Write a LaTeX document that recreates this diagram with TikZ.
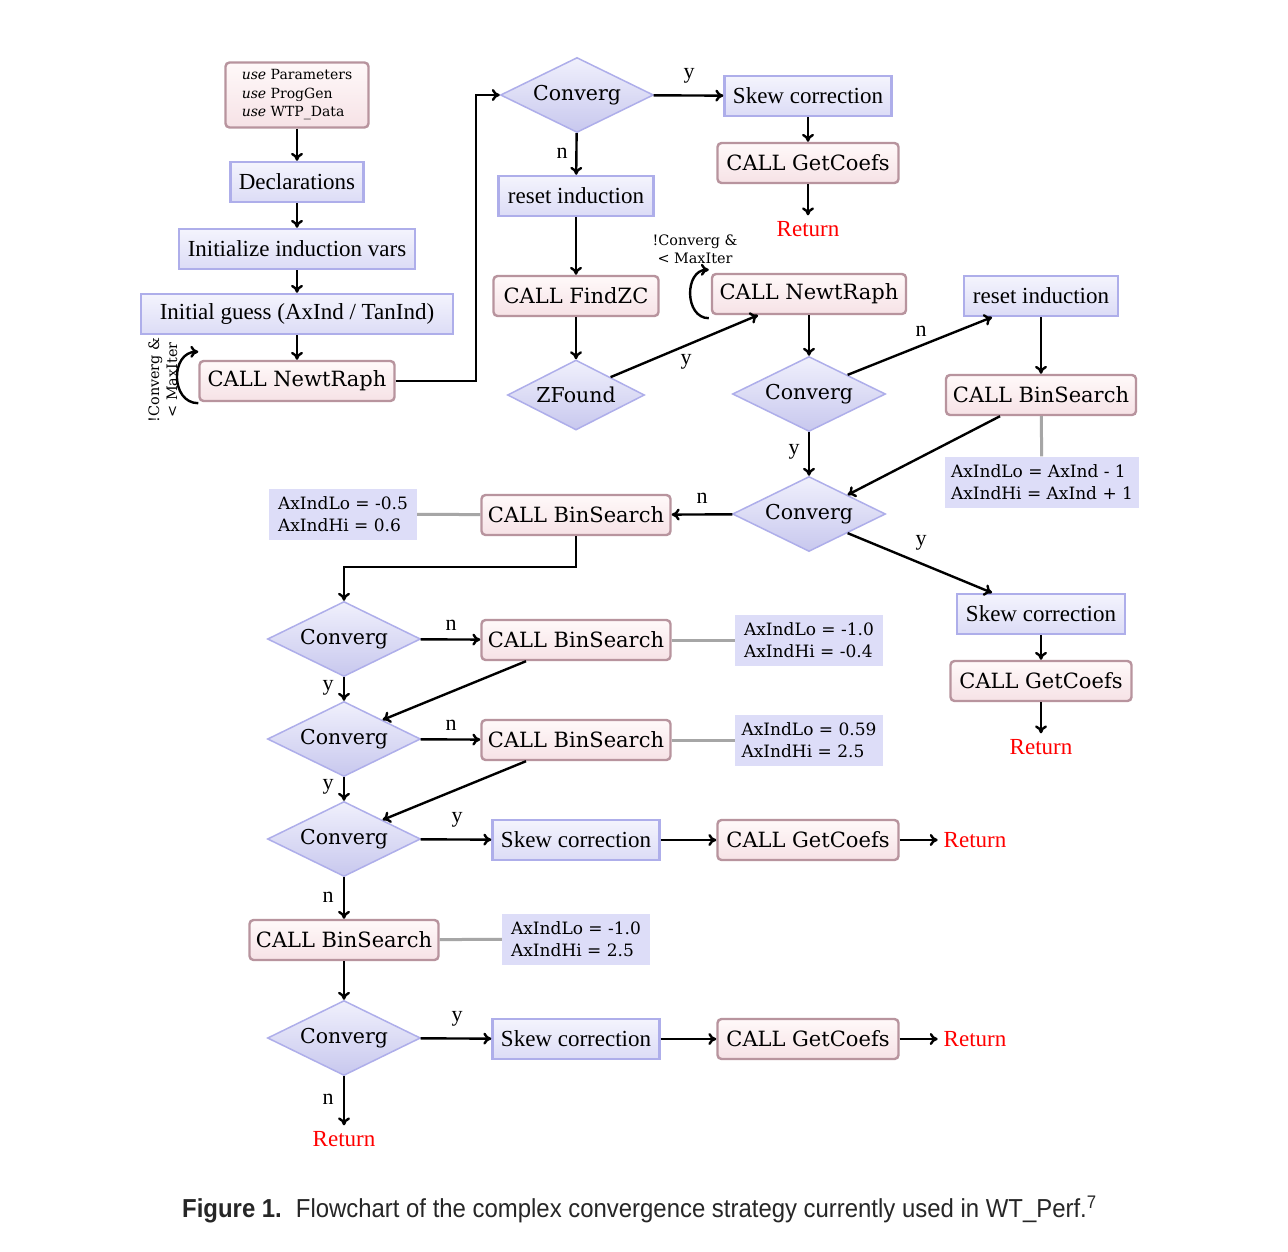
\documentclass[tikz,border=0pt]{standalone}
\usepackage{fontspec}
\setmainfont{Liberation Serif}
\newfontfamily\slab{DejaVu Serif}
\newfontfamily\capfont[FakeStretch=0.92]{Liberation Sans}
\usetikzlibrary{shapes.geometric,arrows.meta}
\definecolor{bbord}{HTML}{AEAEEA}
\definecolor{btop}{HTML}{F4F4FD}
\definecolor{bbot}{HTML}{DCDCF6}
\definecolor{pbord}{HTML}{B8949E}
\definecolor{ptop}{HTML}{FFF9F9}
\definecolor{pbot}{HTML}{F6E2E6}
\definecolor{dtop}{HTML}{F0F0FC}
\definecolor{dbot}{HTML}{C8C8EE}
\definecolor{afill}{HTML}{DDDDF8}
\begin{document}
\begin{tikzpicture}[x=1pt,y=-1pt,
  bbox/.style={rectangle,draw=bbord,line width=2.4pt,top color=btop,bottom color=bbot,inner sep=0pt,minimum height=40pt,font=\fontsize{23}{26}\selectfont},
  pbox/.style={rectangle,rounded corners=4pt,draw=pbord,line width=2.4pt,top color=ptop,bottom color=pbot,inner sep=0pt,minimum height=40pt,font=\slab\fontsize{21}{24}\selectfont},
  dia/.style={diamond,draw=bbord,line width=1.5pt,top color=dtop,bottom color=dbot,inner sep=0pt,minimum width=153pt,minimum height=75pt,shape aspect=2,font=\slab\fontsize{20.5}{24}\selectfont},
  abox/.style={rectangle,fill=afill,inner sep=0pt,minimum width=148pt,minimum height=51pt,align=left,font=\slab\fontsize{17}{22}\selectfont},
  ret/.style={text=red,font=\fontsize{23}{26}\selectfont,inner sep=0pt,outer sep=6pt},
  lab/.style={font=\fontsize{22}{24}\selectfont,inner sep=0pt},
  arr/.style={-{To[length=8pt,width=12pt]},line width=2.4pt},
  gl/.style={line width=3pt,draw=gray!70},
  looplab/.style={font=\slab\fontsize{14.4}{18}\selectfont,align=center,inner sep=0pt}
]
\useasboundingbox[fill=white] (0,0) rectangle (1288,1252);

% nodes
\node[pbox,minimum width=143pt,minimum height=65pt,align=left,font=\slab\fontsize{14}{18.5}\selectfont] (use) at (297,95) {\textit{use} Parameters\\\textit{use} ProgGen\\\textit{use} WTP\_Data};
\node[bbox,minimum width=133pt] (decl) at (297,182) {Declarations};
\node[bbox,minimum width=236pt] (init) at (297,249) {Initialize induction vars};
\node[bbox,minimum width=312pt] (guess) at (297,314) {Initial guess (AxInd / TanInd)};
\node[pbox,minimum width=195pt] (nr1) at (297,381) {CALL NewtRaph};
\node[looplab,rotate=90] (ll1) at (163,380) {!Converg \&\\< MaxIter};

\node[dia] (c1) at (577,95) {Converg};
\node[bbox,minimum width=167pt] (sk1) at (808,96) {Skew correction};
\node[pbox,minimum width=181pt] (gc1) at (808,163) {CALL GetCoefs};
\node[ret] (r1) at (808,229) {Return};
\node[bbox,minimum width=155pt] (ri1) at (576,196) {reset induction};
\node[pbox,minimum width=165pt] (fz) at (576,296) {CALL FindZC};
\node[dia,minimum width=137pt,minimum height=70pt] (zf) at (576,395) {ZFound};
\node[pbox,minimum width=194pt] (nr2) at (809,294) {CALL NewtRaph};
\node[looplab] (ll2) at (695,249) {!Converg \&\\< MaxIter};
\node[dia] (c2) at (809,394) {Converg};
\node[bbox,minimum width=154pt] (ri2) at (1041,296) {reset induction};
\node[pbox,minimum width=190pt] (bs1) at (1041,395) {CALL BinSearch};
\node[abox,minimum width=194pt] (a1) at (1042,482) {AxIndLo = AxInd - 1\\AxIndHi = AxInd + 1};
\node[dia] (c3) at (809,514) {Converg};
\node[pbox,minimum width=189pt] (bs2) at (576,515) {CALL BinSearch};
\node[abox] (a2) at (343,514) {AxIndLo = -0.5\\AxIndHi = 0.6};
\node[bbox,minimum width=168pt] (sk2) at (1041,614) {Skew correction};
\node[pbox,minimum width=181pt] (gc2) at (1041,681) {CALL GetCoefs};
\node[ret] (r2) at (1041,747) {Return};

\node[dia] (c4) at (344,639) {Converg};
\node[pbox,minimum width=189pt] (bs3) at (576,640) {CALL BinSearch};
\node[abox] (a3) at (809,640) {AxIndLo = -1.0\\AxIndHi = -0.4};
\node[dia] (c5) at (344,739) {Converg};
\node[pbox,minimum width=189pt] (bs4) at (576,740) {CALL BinSearch};
\node[abox] (a4) at (809,740) {AxIndLo = 0.59\\AxIndHi = 2.5};
\node[dia] (c6) at (344,839) {Converg};
\node[bbox,minimum width=167pt] (sk3) at (576,840) {Skew correction};
\node[pbox,minimum width=181pt] (gc3) at (808,840) {CALL GetCoefs};
\node[ret] (r3) at (975,840) {Return};
\node[pbox,minimum width=189pt] (bs5) at (344,940) {CALL BinSearch};
\node[abox] (a5) at (576,939) {AxIndLo = -1.0\\AxIndHi = 2.5};
\node[dia] (c7) at (344,1038) {Converg};
\node[bbox,minimum width=167pt] (sk4) at (576,1039) {Skew correction};
\node[pbox,minimum width=181pt] (gc4) at (808,1039) {CALL GetCoefs};
\node[ret] (r4) at (975,1039) {Return};
\node[ret] (r5) at (344,1139) {Return};

% labels
\node[lab] (l1) at (689,76) {y};
\node[lab] (l2) at (562,153) {n};
\node[lab] (l3) at (686,362) {y};
\node[lab] (l4) at (921,331) {n};
\node[lab] (l5) at (794,452) {y};
\node[lab] (l6) at (702,498) {n};
\node[lab] (l7) at (921,543) {y};
\node[lab] (l8) at (451,625) {n};
\node[lab] (l9) at (328,688) {y};
\node[lab] (l10) at (451,725) {n};
\node[lab] (l11) at (328,787) {y};
\node[lab] (l12) at (457,820) {y};
\node[lab] (l13) at (328,897) {n};
\node[lab] (l14) at (457,1019) {y};
\node[lab] (l15) at (328,1099) {n};

% connectors
\draw[arr] (use) -- (decl);
\draw[arr] (decl) -- (init);
\draw[arr] (init) -- (guess);
\draw[arr] (guess) -- (nr1);
\draw[arr] ([yshift=-1pt]nr1.south west) to[out=180,in=180,looseness=1.4] ([yshift=8pt]nr1.north west);
\coordinate (k1) at (476,381);
\draw[arr] (nr1.east) -- (k1) |- (c1.west);
\draw[arr] (c1) -- (sk1);
\draw[arr] (sk1) -- (gc1);
\draw[arr] (gc1) -- (r1);
\draw[arr] (c1) -- (ri1);
\draw[arr] (ri1) -- (fz);
\draw[arr] (fz) -- (zf);
\draw[arr] (zf.north east) -- ([xshift=-51pt]nr2.south);
\draw[arr] ([xshift=-2pt,yshift=-3pt]nr2.south west) to[out=180,in=180,looseness=1.3] ([xshift=-2pt,yshift=3pt]nr2.north west);
\draw[arr] (nr2) -- (c2);
\draw[arr] (c2.north east) -- ([xshift=-49pt]ri2.south);
\draw[arr] (ri2) -- (bs1);
\draw[gl] (bs1) -- (a1);
\draw[arr] ([xshift=-41pt]bs1.south) -- (c3.north east);
\draw[arr] (c2) -- (c3);
\draw[arr] (c3) -- (bs2);
\draw[gl] (a2) -- (bs2);
\draw[arr] (c3.south east) -- ([xshift=-49pt]sk2.north);
\draw[arr] (sk2) -- (gc2);
\draw[arr] (gc2) -- (r2);
\coordinate (k2) at (344,567);
\draw[arr] (bs2.south) |- (k2) -- (c4);
\draw[arr] (c4) -- (bs3);
\draw[gl] (bs3) -- (a3);
\draw[arr] (c4) -- (c5);
\draw[arr] ([xshift=-50pt]bs3.south) -- (c5.north east);
\draw[arr] (c5) -- (bs4);
\draw[gl] (bs4) -- (a4);
\draw[arr] (c5) -- (c6);
\draw[arr] ([xshift=-50pt]bs4.south) -- (c6.north east);
\draw[arr] (c6) -- (sk3);
\draw[arr] (sk3) -- (gc3);
\draw[arr] (gc3) -- (r3);
\draw[arr] (c6) -- (bs5);
\draw[gl] (bs5) -- (a5);
\draw[arr] (bs5) -- (c7);
\draw[arr] (c7) -- (sk4);
\draw[arr] (sk4) -- (gc4);
\draw[arr] (gc4) -- (r4);
\draw[arr] (c7) -- (r5);

% caption
\node[anchor=west,inner sep=0pt,text=black!85] (cap) at (182,1209) {\capfont\fontsize{26}{30}\selectfont\textbf{Figure 1.}\hspace{14pt}Flowchart of the complex convergence strategy currently used in WT\_Perf.\textsuperscript{7}};
\end{tikzpicture}
\end{document}
